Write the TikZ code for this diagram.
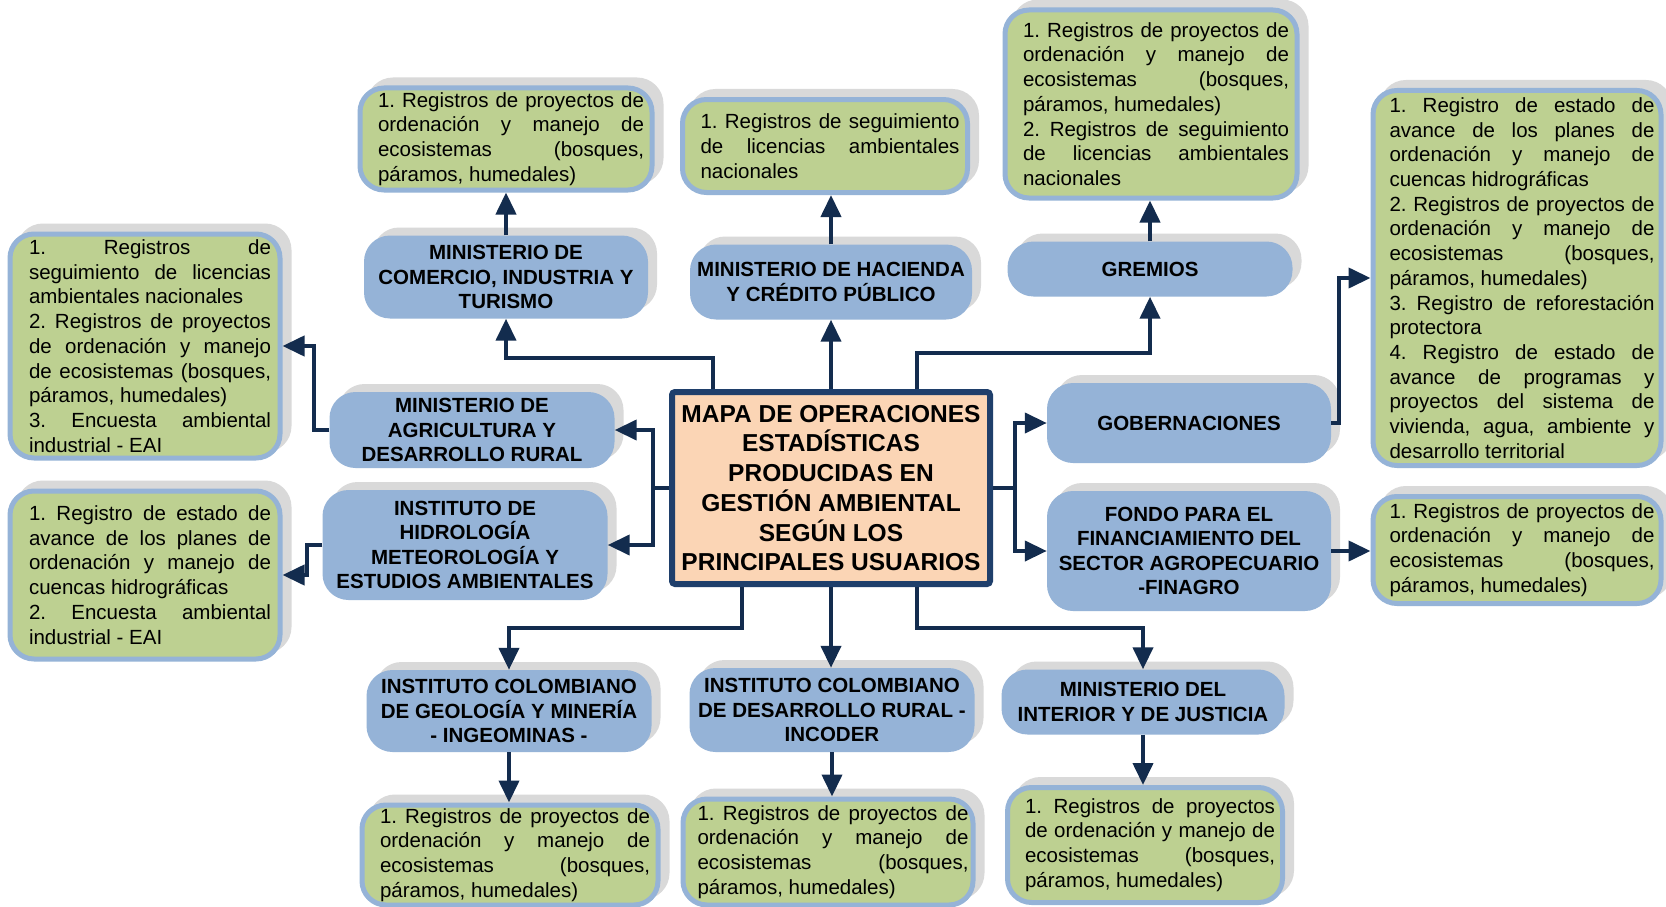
\documentclass[tikz,border=0pt]{standalone}
\usepackage{fontspec}
\setmainfont{Liberation Sans}
\usetikzlibrary{arrows.meta,shadows,calc}
\definecolor{bluebox}{HTML}{95B3D7}
\definecolor{greenfill}{HTML}{BDD091}
\definecolor{shadowgray}{HTML}{D9D9D9}
\definecolor{peach}{HTML}{FBD5B5}
\definecolor{navyborder}{HTML}{1F3F6B}
\definecolor{conncol}{HTML}{132C4E}
\newcommand\BR{\linebreak}
\setlength{\parindent}{0pt}
\tolerance=10000
\hyphenpenalty=10000
\tikzset{
  bbox/.style={fill=bluebox, rounded corners=26pt, inner sep=0pt, align=center,
    general shadow={fill=shadowgray, shadow xshift=9pt, shadow yshift=8pt},
    font=\fontsize{20.5pt}{24.5pt}\selectfont\bfseries},
  gbox/.style={fill=greenfill, draw=bluebox, line width=5pt, rounded corners=24pt, inner sep=0pt,
    general shadow={fill=shadowgray, draw=shadowgray, line width=5pt, shadow xshift=9pt, shadow yshift=8pt}},
  gtext/.style={inner sep=0pt, align=justify,
    font=\fontsize{20.5pt}{24.7pt}\selectfont},
  conn/.style={draw=conncol, line width=4pt, -{Triangle[length=22pt,width=20pt]}},
  plainline/.style={draw=conncol, line width=4pt},
}
\begin{document}
\tolerance=10000
\hyphenpenalty=10000
\frenchspacing
\begin{tikzpicture}[x=1pt,y=-1pt]
\fill[white] (0,0) rectangle (1666,907);
\useasboundingbox (0,0) rectangle (1666,907);

% green boxes
\node[gbox, minimum width=292pt, minimum height=102pt] (g1) at (506,139) {};
\node[gtext, text width=266pt] (t1) at ([xshift=5pt]g1.center) {1. Registros de proyectos de\BR ordenación y manejo de\BR ecosistemas (bosques,\BR páramos, humedales)};

\node[gbox, minimum width=285pt, minimum height=93pt] (g2) at (825,146) {};
\node[gtext, text width=259pt] (t2) at ([xshift=5pt]g2.center) {1. Registros de seguimiento\BR de licencias ambientales\BR nacionales};

\node[gbox, minimum width=292pt, minimum height=188pt] (g3) at (1151,104) {};
\node[gtext, text width=266pt] (t3) at ([xshift=5pt]g3.center) {1. Registros de proyectos de\BR ordenación y manejo de\BR ecosistemas (bosques,\BR páramos, humedales)\\ 2. Registros de seguimiento\BR de licencias ambientales\BR nacionales};

\node[gbox, minimum width=270pt, minimum height=224pt] (g4) at (145,346) {};
\node[gtext, text width=242pt] (t4) at ([xshift=5pt]g4.center) {1. Registros de\BR seguimiento de licencias\BR ambientales nacionales\\ 2. Registros de proyectos\BR de ordenación y manejo\BR de ecosistemas (bosques,\BR páramos, humedales)\\ 3. Encuesta ambiental\BR industrial - EAI};

\node[gbox, minimum width=270pt, minimum height=168pt] (g5) at (145,575) {};
\node[gtext, text width=242pt] (t5) at ([xshift=5pt]g5.center) {1. Registro de estado de\BR avance de los planes de\BR ordenación y manejo de\BR cuencas hidrográficas\\ 2. Encuesta ambiental\BR industrial - EAI};

\node[gbox, minimum width=288pt, minimum height=375pt] (g6) at (1517,278) {};
\node[gtext, text width=265pt] (t6) at ([xshift=5pt]g6.center) {1. Registro de estado de\BR avance de los planes de\BR ordenación y manejo de\BR cuencas hidrográficas\\ 2. Registros de proyectos de\BR ordenación y manejo de\BR ecosistemas (bosques,\BR páramos, humedales)\\ 3. Registro de reforestación\BR protectora\\ 4. Registro de estado de\BR avance de programas y\BR proyectos del sistema de\BR vivienda, agua, ambiente y\BR desarrollo territorial};

\node[gbox, minimum width=288pt, minimum height=107pt] (g7) at (1517,550) {};
\node[gtext, text width=265pt] (t7) at ([xshift=5pt]g7.center) {1. Registros de proyectos de\BR ordenación y manejo de\BR ecosistemas (bosques,\BR páramos, humedales)};

\node[gbox, minimum width=296pt, minimum height=100pt] (g8) at (510,855) {};
\node[gtext, text width=270pt] (t8) at ([xshift=5pt]g8.center) {1. Registros de proyectos de\BR ordenación y manejo de\BR ecosistemas (bosques,\BR páramos, humedales)};

\node[gbox, minimum width=290pt, minimum height=106pt] (g9) at (828,852) {};
\node[gtext, text width=271pt] (t9) at ([xshift=5pt]g9.center) {1. Registros de proyectos de\BR ordenación y manejo de\BR ecosistemas (bosques,\BR páramos, humedales)};

\node[gbox, minimum width=275pt, minimum height=115pt] (g10) at (1145,845) {};
\node[gtext, text width=250pt] (t10) at ([xshift=5pt]g10.center) {1. Registros de proyectos\BR de ordenación y manejo de\BR ecosistemas (bosques,\BR páramos, humedales)};

% blue boxes
\node[bbox, minimum width=284pt, minimum height=83pt] (b1) at (506,277) {MINISTERIO DE\\COMERCIO, INDUSTRIA Y\\TURISMO};
\node[bbox, minimum width=282pt, minimum height=75pt] (b2) at (831,282) {MINISTERIO DE HACIENDA\\Y CRÉDITO PÚBLICO};
\node[bbox, minimum width=285pt, minimum height=55pt] (b3) at (1150,269) {GREMIOS};
\node[bbox, minimum width=285pt, minimum height=76pt] (b4) at (472,430) {MINISTERIO DE\\AGRICULTURA Y\\DESARROLLO RURAL};
\node[bbox, minimum width=285pt, minimum height=110pt] (b5) at (465,545) {INSTITUTO DE\\HIDROLOGÍA\\METEOROLOGÍA Y\\ESTUDIOS AMBIENTALES};
\node[bbox, minimum width=284pt, minimum height=80pt] (b6) at (1189,423) {GOBERNACIONES};
\node[bbox, minimum width=284pt, minimum height=120pt] (b7) at (1189,551) {FONDO PARA EL\\FINANCIAMIENTO DEL\\SECTOR AGROPECUARIO\\-FINAGRO};
\node[bbox, minimum width=285pt, minimum height=82pt] (b8) at (509,711) {INSTITUTO COLOMBIANO\\DE GEOLOGÍA Y MINERÍA\\- INGEOMINAS -};
\node[bbox, minimum width=285pt, minimum height=84pt] (b9) at (832,710) {INSTITUTO COLOMBIANO\\DE DESARROLLO RURAL -\\INCODER};
\node[bbox, minimum width=283pt, minimum height=65pt] (b10) at (1143,702) {MINISTERIO DEL\\INTERIOR Y DE JUSTICIA};

% central box
\node[draw=navyborder, line width=6pt, fill=peach, rounded corners=3pt, inner sep=0pt,
  minimum width=318pt, minimum height=192pt, align=center,
  font=\fontsize{24.5pt}{29.75pt}\selectfont\bfseries] (c) at (831,488)
  {MAPA DE OPERACIONES\\ESTADÍSTICAS\\PRODUCIDAS EN\\GESTIÓN AMBIENTAL\\SEGÚN LOS\\PRINCIPALES USUARIOS};

% connectors from centre
\draw[conn] ([xshift=-118pt]c.north) -- ++(0,-31) -| (b1.south);
\draw[conn] (c.north) -- (c.north |- b2.south);
\draw[conn] ([xshift=86pt]c.north) -- ++(0,-36) -| (b3.south);
\draw[plainline] (c.west) -- ++(-16,0) coordinate (lj);
\draw[conn] (lj) |- (b4.east);
\draw[conn] (lj) |- (b5.east);
\draw[plainline] (c.east) -- ++(22,0) coordinate (rj);
\draw[conn] (rj) |- (b6.west);
\draw[conn] (rj) |- (b7.west);
\draw[conn] ([xshift=-89pt]c.south) -- ++(0,41) -| (b8.north);
\draw[conn] (c.south) -- (c.south |- b9.north);
\draw[conn] ([xshift=86pt]c.south) -- ++(0,41) -| (b10.north);

% connectors to green boxes
\draw[conn] (b1.north) -- (b1.north |- g1.south);
\draw[conn] (b2.north) -- (b2.north |- g2.south);
\draw[conn] (b3.north) -- (b3.north |- g3.south);
\draw[conn] (b4.west) -- ++(-15,0) |- (g4.east);
\draw[conn] (b5.west) -- ++(-15,0) |- (g5.east);
\draw[conn] (b6.east) -- ++(8,0) |- (g6.west);
\draw[conn] (b7.east) -- (b7.east -| g7.west);
\draw[conn] (b8.south) -- (b8.south |- g8.north);
\draw[conn] (b9.south) -- (b9.south |- g9.north);
\draw[conn] (b10.south) -- (b10.south |- g10.north);
\end{tikzpicture}
\end{document}
